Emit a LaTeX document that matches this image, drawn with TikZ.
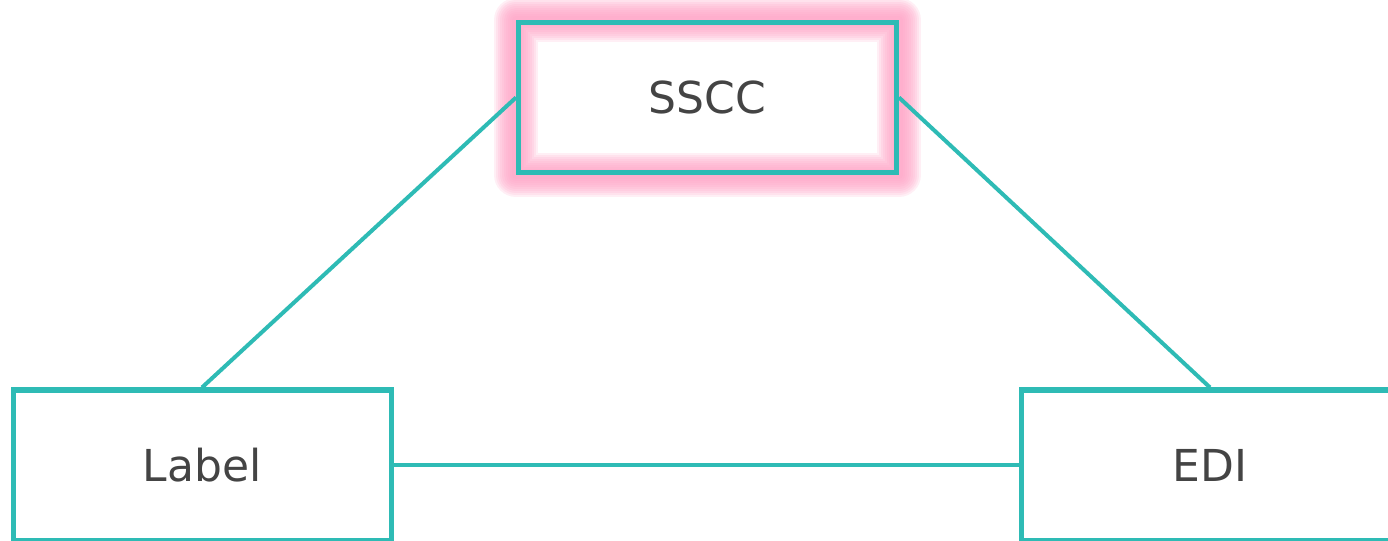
\documentclass[tikz,border=0pt]{standalone}
\usepackage{fontspec}
\setmainfont{DejaVu Sans}
\usetikzlibrary{backgrounds}
\definecolor{boxteal}{RGB}{46,187,181}
\definecolor{glowpink}{RGB}{255,160,196}
\definecolor{txtgray}{RGB}{68,68,68}

\begin{document}
\begin{tikzpicture}[x=0.75pt, y=-0.75pt,
    box/.style={draw=boxteal, line width=3.75pt, minimum width=283.5pt, minimum height=112.5pt, inner sep=0pt, text=txtgray, font=\fontsize{33}{40}\selectfont},
    link/.style={boxteal, line width=3pt}]
                    \useasboundingbox (0,0) rectangle (1388,541);
                    \clip (0,0) rectangle (1388,541);
                    \node[box] (sscc) at (707.5,97.5) {SSCC};
                    \node[box] (label) at (202,465) {Label};
                    \node[box] (edi) at (1210,465) {EDI};
                    % pink glow round the SSCC box
                    \begin{scope}[on background layer]
                    \foreach \w in {33,30,27,24,21,18,15,12,9,6}
                        \draw[glowpink, line width=\w pt, opacity=0.17, line join=round] (sscc.south west) rectangle (sscc.north east);
                    \end{scope}
                    \draw[link] (label.north) -- (sscc.west);
                    \draw[link] (sscc.east) -- (edi.north);
                    \draw[link] (label.east) -- (edi.west);
                \end{tikzpicture}
\end{document}
